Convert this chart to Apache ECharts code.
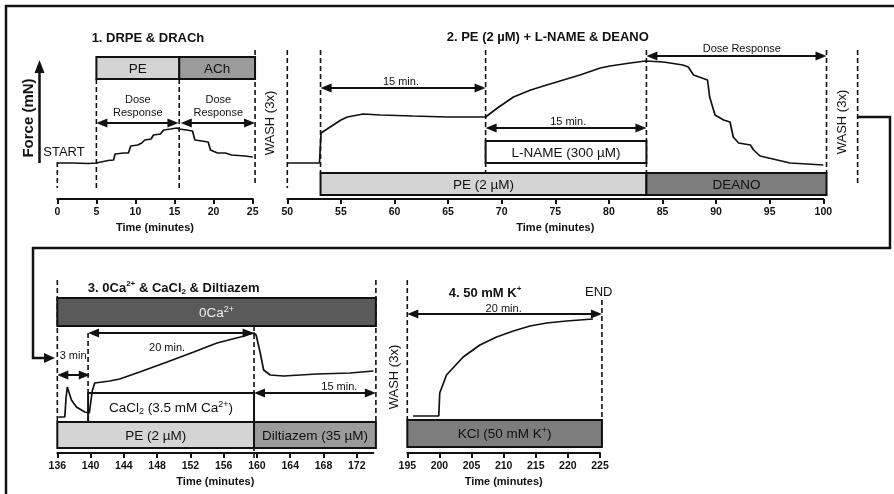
<!DOCTYPE html>
<html>
<head>
<meta charset="utf-8">
<script src="https://cdn.jsdelivr.net/npm/echarts@6/dist/echarts.min.js"></script>
<style>
  html, body { margin: 0; padding: 0; background: #fff; }
  #chart { width: 894px; height: 494px; }
</style>
</head>
<body>
<div id="chart"></div>
<script>
// ---- data: force traces [time (min), force (arbitrary units)] ----
var trace1 = [[0,3.6],[2,3.6],[4,3.55],[5,3.6],[5.2,3.8],[6.5,3.85],[7.2,3.9],[7.4,4.5],[8.5,4.6],[9.1,4.6],[9.4,5.3],[10.3,5.4],[10.8,5.6],[11.2,5.9],[12.0,6.0],[12.3,6.4],[13.2,6.5],[13.6,6.9],[14.5,7.0],[15.3,7.1],[15.6,7.0],[16.5,6.9],[17.3,6.8],[17.6,5.9],[18.5,5.8],[19.3,5.7],[19.6,4.9],[20.5,4.6],[21.5,4.6],[22.3,4.4],[24.0,4.3],[25.0,4.2]];
var trace2 = [[50,3.6],[53.0,3.6],[53.15,6.6],[54.0,7.2],[55.0,7.9],[55.6,8.2],[57.1,8.5],[58.7,8.4],[61.7,8.3],[64.9,8.2],[68.5,8.2],[69.6,9.1],[71.1,10.2],[72.7,10.9],[74.2,11.4],[77.3,12.4],[79.2,13.1],[80.1,13.3],[82.0,13.6],[83.4,13.8],[85.1,13.7],[86.9,13.4],[87.4,13.2],[87.9,12.4],[89.2,11.9],[89.4,10.2],[89.9,8.4],[90.7,7.9],[91.3,7.7],[91.6,6.2],[92.1,5.6],[93.2,5.4],[93.5,4.9],[94.1,4.3],[95.3,4.0],[96.9,3.6],[98.5,3.5],[100,3.4]];
var trace3 = [[136.1,3.6],[136.9,3.6],[137.05,5.5],[137.2,6.6],[137.7,5.3],[138.3,4.6],[139.3,4.1],[139.85,4.0],[140.2,6.2],[140.5,7.0],[142.3,7.2],[143.5,7.4],[145.9,8.1],[149.2,9.1],[152.4,10.1],[155.2,11.0],[158.0,11.6],[159.6,12.0],[159.9,11.8],[160.4,10.0],[160.8,8.3],[161.6,7.8],[163.2,7.7],[167.2,7.9],[171.2,8.0],[174.0,8.2]];
var trace4 = [[195.9,3.7],[199.9,3.7],[200.05,6.0],[201.1,7.8],[203.7,9.6],[206.3,10.8],[208.9,11.6],[211.5,12.2],[214.1,12.7],[216.7,13.0],[219.8,13.2],[223.9,13.4]];

// ---- tick labels ----
var ticks1 = [0, 5, 10, 15, 20, 25];
var ticks2 = [50, 55, 60, 65, 70, 75, 80, 85, 90, 95, 100];
var ticks3 = [136, 140, 144, 148, 152, 156, 160, 164, 168, 172];
var ticks4 = [195, 200, 205, 210, 215, 220, 225];

// ---- treatments [label, start, end] ----
var drugs1 = [['PE', 5, 15.6], ['ACh', 15.6, 25.3]];
var drugs2 = [['PE (2 µM)', 53.1, 83.5], ['DEANO', 83.5, 100.3], ['L-NAME (300 µM)', 68.5, 83.5]];
var drugs3 = [['0Ca{sup|2+}', 136, 174.3], ['CaCl{sub|2} (3.5 mM Ca{sup|2+})', 139.7, 159.65], ['PE (2 µM)', 136, 159.65], ['Diltiazem (35 µM)', 159.65, 174.3]];
var drugs4 = [['KCl (50 mM K{sup|+})', 195, 225.3]];

// ---- timed intervals [label, start, end] ----
var spans1 = [['Dose\nResponse', 5, 15.5], ['Dose\nResponse', 15.8, 25.3]];
var spans2 = [['15 min.', 53.1, 68.5], ['15 min.', 68.5, 83.5], ['Dose Response', 83.5, 100.3]];
var spans3 = [['20 min.', 139.7, 159.6], ['3 min', 136, 139.9], ['15 min.', 159.65, 174.3]];
var spans4 = [['20 min.', 195, 225.3]];

// ---- dashed event markers (min) ----
var marks1 = [0, 5, 15.6, 25.3];
var marks2 = [50, 53.1, 68.5, 83.5, 100.3, 103.2];
var marks3 = [136, 139.7, 159.65, 174.3];
var marks4 = [195, 225.3];

var FONT = '"Liberation Sans", Arial, Helvetica, sans-serif';
var INK = '#111';
var LIGHT = '#d4d4d4', MID = '#9b9b9b', DARK = '#7d7d7d', DARKER = '#5a5a5a';

function richFor(size, weight, fill) {
  return {
    sup: { fontSize: Math.round(size * 0.65), fontWeight: weight, fontFamily: FONT, fill: fill, verticalAlign: 'top', lineHeight: Math.round(size * 0.7) },
    sub: { fontSize: Math.round(size * 0.65), fontWeight: weight, fontFamily: FONT, fill: fill, verticalAlign: 'bottom', lineHeight: Math.round(size * 0.7) }
  };
}

function txt(p, text, o) {
  var size = o.size || 13, weight = o.weight || 'normal', fill = o.fill || INK;
  return {
    type: 'text', x: p[0], y: p[1], rotation: o.rot || 0,
    style: {
      text: text, fontSize: size, fontWeight: weight, fontFamily: FONT, fill: fill,
      align: o.align || 'center', verticalAlign: 'middle',
      lineHeight: o.lh || Math.round(size * 1.25), rich: richFor(size, weight, fill)
    }
  };
}

// layout per panel (rows in force units)
var panels = [
  {
    drugs: drugs1, drugRows: [[12.0, 14.2, LIGHT, INK], [12.0, 14.2, MID, INK]],
    spans: spans1, spanRows: [[7.6, 10.3, 9.25], [7.6, 20.6, 9.25]],
    marks: marks1, markRows: [[3.7, 1.1], [12.0, 1.1], [12.0, 1.1], [14.9, 1.3]],
    texts: [['1. DRPE & DRACh', 11.6, 16.1, 'title'], ['START', -1.8, 4.7, 'left'], ['WASH (3x)', 27.3, 7.6, 'vert']]
  },
  {
    drugs: drugs2, drugRows: [[0.4, 2.6, LIGHT, INK], [0.4, 2.6, DARK, INK], [3.6, 5.8, '#fff', INK]],
    spans: spans2, spanRows: [[11.1, 60.6, 11.75], [7.1, 76.2, 7.75], [14.3, 92.4, 15.0]],
    marks: marks2, markRows: [[14.9, 1.1], [14.9, 2.6], [14.9, 0.4], [14.9, 2.6], [14.9, 2.6], [14.9, 1.6]],
    texts: [['2. PE (2 µM) + L-NAME & DEANO', 74.3, 16.2, 'title'], ['WASH (3x)', 101.8, 7.7, 'vert']]
  },
  {
    drugs: drugs3, drugRows: [[12.7, 15.5, DARKER, '#eeeeee'], [3.1, 6.0, '#fff', INK], [0.5, 3.1, LIGHT, INK], [0.5, 3.1, MID, INK]],
    spans: spans3, spanRows: [[12.0, 149.2, 10.5], [7.8, 137.9, 9.7], [6.0, 169.9, 6.65]],
    marks: marks3, markRows: [[17.3, 3.1], [12.0, 6.0], [12.7, -0.5], [17.3, 3.1]],
    texts: [['3. 0Ca{sup|2+} & CaCl{sub|2} & Diltiazem', 150.0, 16.5, 'title'], ['WASH (3x)', 176.5, 7.6, 'vert']]
  },
  {
    drugs: drugs4, drugRows: [[0.6, 3.3, DARK, INK]],
    spans: spans4, spanRows: [[13.9, 210.0, 14.4]],
    marks: marks4, markRows: [[17.3, 3.3], [15.3, 3.3]],
    texts: [['4. 50 mM K{sup|+}', 207.1, 16.0, 'title'], ['END', 224.8, 16.1, 'plain']]
  }
];

function arrowEls(a, b) {
  var L = 11, W = 4.5;
  return [
    { type: 'line', shape: { x1: a[0] + L - 1, y1: a[1], x2: b[0] - L + 1, y2: b[1] }, style: { stroke: INK, lineWidth: 2 } },
    { type: 'polygon', shape: { points: [[a[0], a[1]], [a[0] + L, a[1] - W], [a[0] + L, a[1] + W]] }, style: { fill: INK } },
    { type: 'polygon', shape: { points: [[b[0], b[1]], [b[0] - L, b[1] - W], [b[0] - L, b[1] + W]] }, style: { fill: INK } }
  ];
}

function makeRender(p) {
  return function (params, api) {
    var ch = [];
    p.marks.forEach(function (t, i) {
      var a = api.coord([t, p.markRows[i][0]]), b = api.coord([t, p.markRows[i][1]]);
      ch.push({ type: 'line', shape: { x1: a[0], y1: a[1], x2: b[0], y2: b[1] }, style: { stroke: INK, lineWidth: 1.6, lineDash: [5, 3] } });
    });
    p.drugs.forEach(function (d, i) {
      var r = p.drugRows[i];
      var a = api.coord([d[1], r[1]]), b = api.coord([d[2], r[0]]);
      ch.push({ type: 'rect', shape: { x: a[0], y: a[1], width: b[0] - a[0], height: b[1] - a[1] }, style: { fill: r[2], stroke: INK, lineWidth: 2 } });
      ch.push(txt([(a[0] + b[0]) / 2, (a[1] + b[1]) / 2 + 1], d[0], { size: 13.5, fill: r[3], lh: 16 }));
    });
    p.spans.forEach(function (s, i) {
      var r = p.spanRows[i];
      var a = api.coord([s[1], r[0]]), b = api.coord([s[2], r[0]]);
      ch = ch.concat(arrowEls(a, b));
      ch.push(txt(api.coord([r[1], r[2]]), s[0], { size: 11, lh: 13 }));
    });
    p.texts.forEach(function (t) {
      var pt = api.coord([t[1], t[2]]);
      if (t[3] === 'title') ch.push(txt(pt, t[0], { size: 13, weight: 'bold', lh: 16 }));
      else if (t[3] === 'left') ch.push(txt(pt, t[0], { size: 13, align: 'left' }));
      else if (t[3] === 'vert') ch.push(txt(pt, t[0], { size: 13, rot: Math.PI / 2 }));
      else ch.push(txt(pt, t[0], { size: 13 }));
    });
    return { type: 'group', children: ch };
  };
}

function xAxisFor(idx, min, max, ticks) {
  return {
    type: 'value', gridIndex: idx, min: min, max: max,
    axisLine: { show: true, onZero: false, lineStyle: { color: INK, width: 2 } },
    axisTick: { show: true, length: 5, customValues: ticks, lineStyle: { color: INK, width: 2 } },
    axisLabel: { customValues: ticks, color: INK, fontWeight: 'bold', fontSize: 10.5, fontFamily: FONT, margin: 8 },
    splitLine: { show: false },
    name: 'Time (minutes)', nameLocation: 'middle', nameGap: 23,
    nameTextStyle: { color: INK, fontWeight: 'bold', fontSize: 11, fontFamily: FONT }
  };
}

function yAxisFor(idx, max) {
  return { type: 'value', gridIndex: idx, min: 0, max: max, show: false };
}

var traces = [trace1, trace2, trace3, trace4];
var series = [];
traces.forEach(function (tr, i) {
  series.push({
    type: 'custom', xAxisIndex: i, yAxisIndex: i, clip: false, silent: true,
    data: [[tr[0][0], 0]], renderItem: makeRender(panels[i]), z: 2
  });
  series.push({
    type: 'line', xAxisIndex: i, yAxisIndex: i, data: tr, showSymbol: false, silent: true,
    lineStyle: { color: INK, width: 1.7 }, z: 3
  });
});

var chart = echarts.init(document.getElementById('chart'), null, { renderer: 'canvas' });
chart.setOption({
  animation: false,
  backgroundColor: '#fff',
  grid: [
    { left: 57.3, right: 641.3, top: 29, bottom: 295 },
    { left: 287.3, right: 70.7, top: 29, bottom: 295 },
    { left: 57.3, right: 520.6, top: 260, bottom: 41 },
    { left: 407.3, right: 294, top: 260, bottom: 41 }
  ],
  xAxis: [
    xAxisFor(0, 0, 25, ticks1),
    xAxisFor(1, 50, 100, ticks2),
    xAxisFor(2, 136, 174, ticks3),
    xAxisFor(3, 195, 225, ticks4)
  ],
  yAxis: [yAxisFor(0, 17), yAxisFor(1, 17), yAxisFor(2, 19.3), yAxisFor(3, 19.3)],
  graphic: [
    { type: 'polyline', shape: { points: [[896, 6], [6, 6], [6, 496]] }, style: { stroke: INK, lineWidth: 2.5, fill: null }, silent: true },
    { type: 'polyline', shape: { points: [[857, 117], [890, 117], [890, 248], [33, 248], [33, 358], [45, 358]] }, style: { stroke: INK, lineWidth: 2.5, fill: null }, silent: true },
    { type: 'polygon', shape: { points: [[55, 358], [44, 353], [44, 363]] }, style: { fill: INK }, silent: true },
    { type: 'line', shape: { x1: 39.5, y1: 163, x2: 39.5, y2: 72 }, style: { stroke: INK, lineWidth: 2.5 }, silent: true },
    { type: 'polygon', shape: { points: [[39.5, 60], [34.5, 73], [44.5, 73]] }, style: { fill: INK }, silent: true },
    { type: 'text', x: 29, y: 118, rotation: Math.PI / 2, silent: true,
      style: { text: 'Force (mN)', fontSize: 15, fontWeight: 'bold', fontFamily: FONT, fill: INK, align: 'center', verticalAlign: 'middle' } }
  ],
  series: series
});
window.addEventListener('resize', function () { chart.resize(); });
</script>
</body>
</html>
